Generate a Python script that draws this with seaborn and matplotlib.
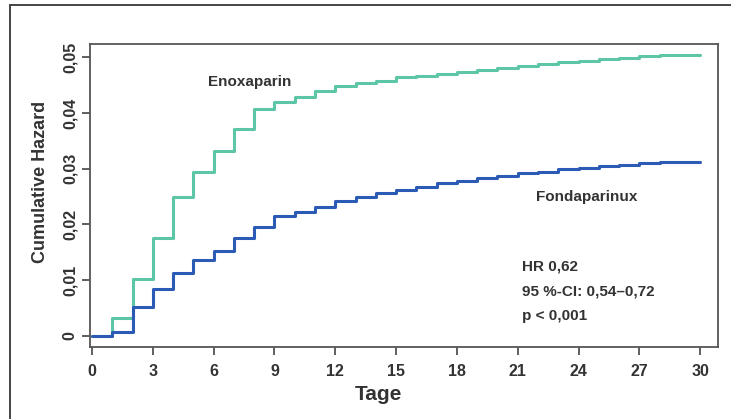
import numpy as np
import pandas as pd
import matplotlib.pyplot as plt
import seaborn as sns

# cumulative hazard per day interval [d, d+1)
days = list(range(0, 31))
enoxaparin = [0.0, 0.0032, 0.0102, 0.0176, 0.0250, 0.0294, 0.0332, 0.0371, 0.0408, 0.0419,
              0.0429, 0.0440, 0.0448, 0.0454, 0.0458, 0.0464, 0.0467, 0.0471, 0.0474, 0.0477,
              0.0481, 0.0484, 0.0488, 0.0491, 0.0494, 0.0497, 0.0499, 0.0502, 0.0504, 0.0505,
              0.0505]
fondaparinux = [0.0, 0.0007, 0.0052, 0.0084, 0.0113, 0.0136, 0.0153, 0.0176, 0.0195, 0.0215,
                0.0223, 0.0232, 0.0242, 0.0249, 0.0256, 0.0262, 0.0268, 0.0274, 0.0278, 0.0283,
                0.0287, 0.0292, 0.0295, 0.0299, 0.0302, 0.0305, 0.0307, 0.0310, 0.0312, 0.0313,
                0.0313]
groups = ['Enoxaparin', 'Fondaparinux']
colors = ['#5cc6a6', '#2b5bb5']
x_ticks = list(range(0, 31, 3))
y_ticks = [0, 0.01, 0.02, 0.03, 0.04, 0.05]
y_labels = ['0', '0,01', '0,02', '0,03', '0,04', '0,05']
stats_lines = ['HR 0,62', '95 %-CI: 0,54\u20130,72', 'p < 0,001']

df = pd.DataFrame({
    'Tage': days * 2,
    'hazard': enoxaparin + fondaparinux,
    'group': [groups[0]] * len(days) + [groups[1]] * len(days),
})

sns.set_theme(style='ticks')
plt.rcParams['font.family'] = ['Liberation Sans', 'DejaVu Sans']
txt = '#333333'

fig = plt.figure(figsize=(7.31, 4.19), dpi=100)
ax = fig.add_axes([90 / 731, 1 - 347 / 419, (718 - 90) / 731, (347 - 44) / 419])

sns.lineplot(data=df, x='Tage', y='hazard', hue='group', hue_order=groups,
             palette=colors, drawstyle='steps-post', estimator=None,
             linewidth=2.2, legend=False, ax=ax)

ax.set_xlim(-0.1, 30.88)
ax.set_ylim(-0.0020, 0.0524)
ax.set_xticks(x_ticks)
ax.set_xticklabels([str(t) for t in x_ticks], fontsize=11.5, fontweight='bold', color=txt)
ax.set_yticks(y_ticks)
ax.set_yticklabels(y_labels, fontsize=11.5, fontweight='bold', color=txt,
                   rotation=90, va='center')
ax.tick_params(axis='both', direction='out', length=6, width=1.2, color='#444444', pad=3)
ax.tick_params(axis='x', pad=6)
for s in ax.spines.values():
    s.set_visible(True)
    s.set_color('#555555')
    s.set_linewidth(1.3)

ax.set_xlabel('Tage', fontsize=15, fontweight='bold', color=txt)
ax.set_ylabel('Cumulative Hazard', fontsize=13, fontweight='bold', color=txt)
ax.xaxis.set_label_coords(0.459, -0.125)
ax.yaxis.set_label_coords(-0.066, 0.545)

ax.text(5.7, 0.0455, 'Enoxaparin', fontsize=11, fontweight='bold', color=txt, va='center')
ax.text(21.9, 0.0249, 'Fondaparinux', fontsize=11, fontweight='bold', color=txt, va='center')
for i, line in enumerate(stats_lines):
    ax.text(21.2, 0.0125 - i * 0.0045, line, fontsize=11, fontweight='bold',
            color=txt, va='center')

# outer frame of the figure (cut at right and bottom in the source image)
fig.patches.append(plt.Rectangle((9.5 / 731, -0.02), 1.05, 1 - 5 / 419 + 0.02,
                                 transform=fig.transFigure, fill=False,
                                 edgecolor='#444444', linewidth=1.4))

fig.savefig('out.png', dpi=100)
